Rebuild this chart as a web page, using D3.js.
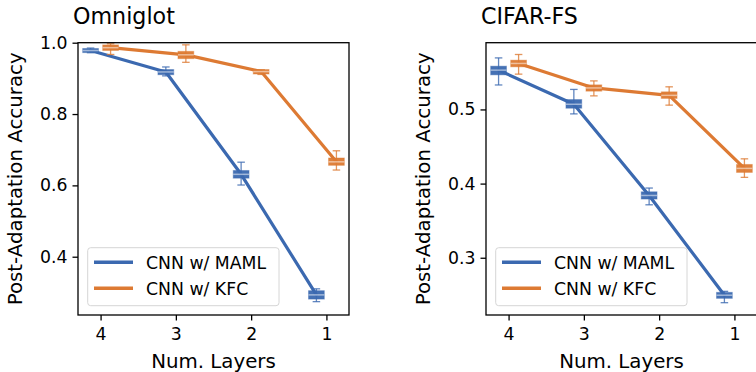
<!DOCTYPE html>
<html><head><meta charset="utf-8">
<script src="https://cdn.jsdelivr.net/npm/d3@7"></script>
<style>
html,body{margin:0;padding:0;background:#fff;overflow:hidden;}
svg{display:block;font-family:"DejaVu Sans",sans-serif;}
</style></head>
<body>
<svg id="chart" width="756" height="372"></svg>
<script>
// ---- data ----
const categories = ["4", "3", "2", "1"];
const seriesNames = ["CNN w/ MAML", "CNN w/ KFC"];
const colors = ["#3b69b0", "#dd7a33"];

// Omniglot
const omniMamlMed = [0.978, 0.918, 0.631, 0.293];
const omniMamlQ1  = [0.975, 0.913, 0.623, 0.284];
const omniMamlQ3  = [0.981, 0.922, 0.639, 0.302];
const omniMamlLo  = [0.972, 0.907, 0.601, 0.274];
const omniMamlHi  = [0.985, 0.932, 0.665, 0.310];

const omniKfcMed = [0.986, 0.966, 0.919, 0.666];
const omniKfcQ1  = [0.981, 0.958, 0.915, 0.659];
const omniKfcQ3  = [0.991, 0.973, 0.922, 0.674];
const omniKfcLo  = [0.967, 0.945, 0.911, 0.643];
const omniKfcHi  = [0.997, 0.994, 0.924, 0.697];

// CIFAR-FS
const cifarMamlMed = [0.553, 0.507, 0.384, 0.2495];
const cifarMamlQ1  = [0.548, 0.503, 0.3805, 0.2466];
const cifarMamlQ3  = [0.557, 0.512, 0.3876, 0.252];
const cifarMamlLo  = [0.533, 0.494, 0.3714, 0.2394];
const cifarMamlHi  = [0.5695, 0.527, 0.394, 0.2547];

const cifarKfcMed = [0.562, 0.529, 0.519, 0.4205];
const cifarKfcQ1  = [0.5588, 0.526, 0.5162, 0.4164];
const cifarKfcQ3  = [0.5651, 0.5318, 0.5224, 0.4245];
const cifarKfcLo  = [0.5476, 0.5183, 0.5058, 0.4084];
const cifarKfcHi  = [0.5741, 0.5385, 0.5305, 0.4334];

const omniTicks = [0.4, 0.6, 0.8, 1.0];
const cifarTicks = [0.3, 0.4, 0.5];

const panels = [
  {title: "Omniglot", x0: 78, yDomain: [0.2366, 1.0], ticks: omniTicks,
   series: [
     {med: omniMamlMed, q1: omniMamlQ1, q3: omniMamlQ3, lo: omniMamlLo, hi: omniMamlHi},
     {med: omniKfcMed, q1: omniKfcQ1, q3: omniKfcQ3, lo: omniKfcLo, hi: omniKfcHi}]},
  {title: "CIFAR-FS", x0: 486, yDomain: [0.2228, 0.590], ticks: cifarTicks,
   series: [
     {med: cifarMamlMed, q1: cifarMamlQ1, q3: cifarMamlQ3, lo: cifarMamlLo, hi: cifarMamlHi},
     {med: cifarKfcMed, q1: cifarKfcQ1, q3: cifarKfcQ3, lo: cifarKfcLo, hi: cifarKfcHi}]}
];

// ---- layout ----
const PW = 271, PTOP = 42.7, PBOT = 315;
const dodge = [-0.133, 0.133], boxW = 0.21, capW = 0.1;
const svg = d3.select("#chart");

panels.forEach(p => {
  const g = svg.append("g");
  const x = d3.scaleLinear().domain([-0.3, 3.3]).range([p.x0, p.x0 + PW]);
  const y = d3.scaleLinear().domain(p.yDomain).range([PBOT, PTOP]);

  // series lines
  p.series.forEach((s, si) => {
    const line = d3.line().x((d, i) => x(i + dodge[si])).y(d => y(d));
    g.append("path").attr("d", line(s.med)).attr("fill", "none")
      .attr("stroke", colors[si]).attr("stroke-width", 3.2)
      .attr("stroke-linejoin", "round").attr("stroke-linecap", "round");
  });
  // boxplots
  p.series.forEach((s, si) => {
    s.med.forEach((m, i) => {
      const cx = x(i + dodge[si]);
      const hw = (x(boxW) - x(0)) / 2, cw = (x(capW) - x(0)) / 2;
      const hi = s.hi[i], lo = s.lo[i], q1 = s.q1[i], q3 = s.q3[i];
      const bg = g.append("g").attr("stroke", colors[si]);
      bg.append("line").attr("x1", cx).attr("x2", cx).attr("y1", y(hi)).attr("y2", y(lo))
        .attr("stroke-width", 1.3).attr("stroke-opacity", 0.8);
      [hi, lo].forEach(v => bg.append("line").attr("x1", cx - cw).attr("x2", cx + cw)
        .attr("y1", y(v)).attr("y2", y(v)).attr("stroke-width", 1.3).attr("stroke-opacity", 0.8));
      bg.append("rect").attr("x", cx - hw).attr("width", 2 * hw)
        .attr("y", y(q3) - 1).attr("height", Math.max(y(q1) - y(q3) + 2, 3.5))
        .attr("fill", colors[si]).attr("fill-opacity", 0.95)
        .attr("stroke-width", 1).attr("stroke-opacity", 0.4);
      bg.append("line").attr("x1", cx - hw).attr("x2", cx + hw).attr("y1", y(m)).attr("y2", y(m))
        .attr("stroke", "#fff").attr("stroke-opacity", 0.5).attr("stroke-width", 1.5);
    });
  });

  // axes
  const xa = d3.axisBottom(x).tickValues([0, 1, 2, 3]).tickFormat(i => categories[i])
    .tickSize(5.5).tickPadding(6);
  const gx = g.append("g").attr("transform", `translate(0,${PBOT})`).call(xa);
  const ya = d3.axisLeft(y).tickValues(p.ticks).tickFormat(d3.format(".1f"))
    .tickSize(5.5).tickPadding(5);
  const gy = g.append("g").attr("transform", `translate(${p.x0},0)`).call(ya);
  [gx, gy].forEach(a => {
    a.select(".domain").remove();
    a.selectAll(".tick line").attr("stroke", "#000").attr("stroke-width", 1.3);
    a.selectAll(".tick text").attr("font-size", 17.3).attr("fill", "#000")
      .attr("font-family", "DejaVu Sans");
  });
  gx.selectAll(".tick text").attr("dy", "0.71em").attr("y", 12.5);

  // frame
  g.append("rect").attr("x", p.x0).attr("y", PTOP).attr("width", PW).attr("height", PBOT - PTOP)
    .attr("fill", "none").attr("stroke", "#000").attr("stroke-width", 1.3);

  // labels
  g.append("text").attr("x", p.x0 + PW / 2).attr("y", 367.5).attr("text-anchor", "middle")
    .attr("font-size", 19.8).text("Num. Layers");
  g.append("text").attr("transform", `translate(${p.x0 - 56.5},${(PTOP + PBOT) / 2}) rotate(-90)`)
    .attr("text-anchor", "middle").attr("font-size", 19.8).text("Post-Adaptation Accuracy");
  g.append("text").attr("x", p.x0 - 5).attr("y", 24).attr("font-size", 22.2).text(p.title);

  // legend
  const lg = g.append("g").attr("transform", `translate(${p.x0 + 9.7},247.7)`);
  lg.append("rect").attr("width", 191.3).attr("height", 58).attr("rx", 3)
    .attr("fill", "#fff").attr("fill-opacity", 0.8).attr("stroke", "#d6d6d6").attr("stroke-width", 1);
  seriesNames.forEach((n, si) => {
    const yy = 14.6 + si * 26;
    lg.append("line").attr("x1", 6.3).attr("x2", 45.3).attr("y1", yy).attr("y2", yy)
      .attr("stroke", colors[si]).attr("stroke-width", 3.4);
    lg.append("text").attr("x", 58.3).attr("y", yy).attr("dy", "0.36em")
      .attr("font-size", 17.3).text(n);
  });
});
</script>
</body></html>
